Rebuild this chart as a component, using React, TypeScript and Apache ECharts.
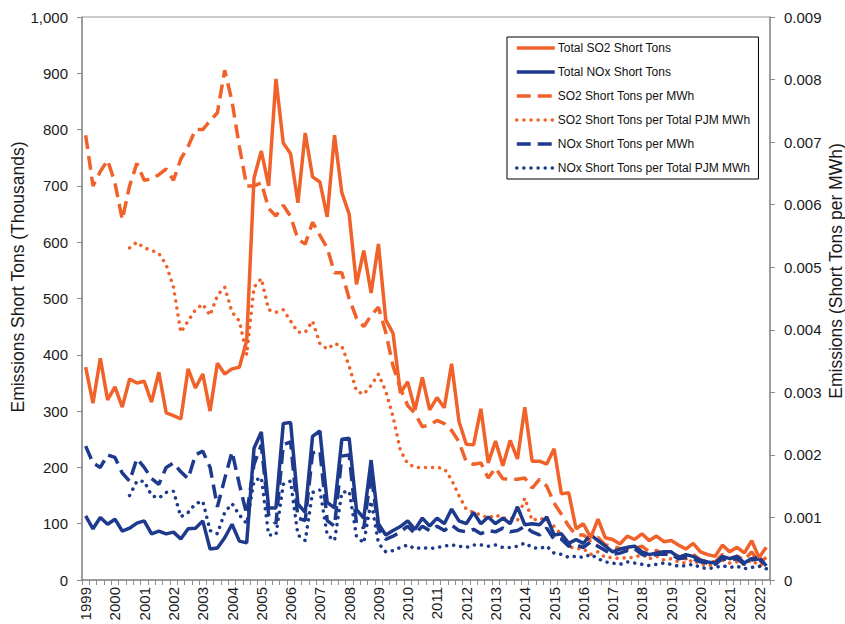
import React, { useEffect, useRef } from "react";
import * as echarts from "echarts";

const years = [1999, 2000, 2001, 2002, 2003, 2004, 2005, 2006, 2007, 2008, 2009, 2010, 2011, 2012, 2013, 2014, 2015, 2016, 2017, 2018, 2019, 2020, 2021, 2022];
const quarters = ["Q1", "Q2", "Q3", "Q4"];
// 1999 Q1 .. 2022 Q2
const categories = years.flatMap((y) => quarters.map((q) => `${y} ${q}`)).slice(0, 94);

const seriesNames = [
  "Total SO2 Short Tons",
  "Total NOx Short Tons",
  "SO2 Short Tons per MWh",
  "SO2 Short Tons per Total PJM MWh",
  "NOx Short Tons per MWh",
  "NOx Short Tons per Total PJM MWh",
];

const leftAxisTitle = "Emissions Short Tons (Thousands)";
const rightAxisTitle = "Emissions (Short Tons per MWh)";

// Thousands of short tons
const totalSO2 = [
  378, 314, 394, 320, 343, 307, 357, 350, 353, 316,
  369, 297, 292, 286, 375, 341, 366, 300, 385, 366,
  375, 378, 425, 714, 762, 700, 890, 776, 757, 670,
  794, 716, 707, 645, 790, 688, 650, 525, 585, 510,
  597, 462, 438, 332, 352, 302, 360, 302, 324, 306,
  384, 282, 241, 240, 304, 208, 247, 203, 248, 215,
  307, 211, 211, 206, 233, 153, 155, 91, 100, 75,
  108, 75, 72, 64, 78, 72, 82, 70, 78, 68,
  70, 62, 55, 65, 50, 45, 42, 62, 50, 58,
  48, 70, 40, 58,
];

const totalNOx = [
  114, 91, 111, 99, 108, 87, 92, 101, 105, 82,
  87, 82, 85, 73, 91, 92, 105, 55, 57, 75,
  99, 69, 66, 234, 263, 128, 128, 278, 280, 135,
  120, 255, 265, 138, 128, 250, 252, 125, 110, 213,
  100, 80, 88, 95, 105, 90, 110, 96, 110, 100,
  126, 105, 100, 120, 100, 112, 100, 110, 100, 130,
  98, 100, 98, 112, 80, 82, 65, 72, 65, 80,
  70, 60, 50, 55, 58, 60, 50, 45, 48, 50,
  50, 40, 45, 42, 35, 32, 30, 42, 38, 42,
  30, 38, 40, 25,
];

// Short tons per MWh
const so2PerMWh = [
  0.00711, 0.0063, 0.00653, 0.00671, 0.00635, 0.00576, 0.0063, 0.00666, 0.00639, 0.00641,
  0.00648, 0.00657, 0.00639, 0.00673, 0.00693, 0.0072, 0.0072, 0.00734, 0.00747, 0.00815,
  0.00765, 0.00693, 0.0063, 0.0063, 0.00635, 0.00594, 0.00582, 0.00599, 0.00581, 0.00545,
  0.00537, 0.00572, 0.00551, 0.00531, 0.00491, 0.00491, 0.0045, 0.00419, 0.00405, 0.00423,
  0.00436, 0.00396, 0.00342, 0.00306, 0.00279, 0.00266, 0.00245, 0.00248, 0.00255, 0.0025,
  0.00239, 0.00221, 0.00189, 0.00185, 0.00187, 0.00163, 0.00179, 0.00162, 0.00161, 0.00161,
  0.00163, 0.00147, 0.00161, 0.0015, 0.00123, 0.00105, 0.00086, 0.00072, 0.00072, 0.00063,
  0.00068, 0.00056, 0.00054, 0.0005, 0.0005, 0.0005, 0.00054, 0.00045, 0.00047, 0.00041,
  0.00043, 0.00038, 0.00034, 0.00041, 0.00032, 0.00029, 0.00029, 0.00041, 0.00034, 0.00038,
  0.00032, 0.00045, 0.00027, 0.00036,
];

const so2PerTotalMWh = [
  null, null, null, null, null, null, 0.00531, 0.0054, 0.00531, 0.00527,
  0.00522, 0.00504, 0.00468, 0.00396, 0.00414, 0.00432, 0.00441, 0.00423, 0.00455, 0.00468,
  0.00428, 0.00414, 0.0036, 0.00468, 0.00482, 0.00432, 0.00428, 0.00432, 0.00414, 0.00396,
  0.00396, 0.00414, 0.00378, 0.00369, 0.00378, 0.00374, 0.00342, 0.00302, 0.00297, 0.00311,
  0.00329, 0.00302, 0.00261, 0.00207, 0.00186, 0.0018, 0.0018, 0.0018, 0.0018, 0.00178,
  0.0016, 0.00135, 0.00113, 0.00108, 0.00104, 0.00099, 0.00104, 0.00099, 0.00099, 0.00095,
  0.00131, 0.00095, 0.00099, 0.00095, 0.00086, 0.00072, 0.00054, 0.0005, 0.0005, 0.00041,
  0.00045, 0.00036, 0.00036, 0.00034, 0.00036, 0.00036, 0.00041, 0.00034, 0.00038, 0.00032,
  0.00034, 0.00029, 0.00027, 0.00032, 0.00025, 0.00023, 0.00025, 0.00032, 0.00027, 0.00029,
  0.00025, 0.00032, 0.00023, 0.00027,
];

const noxPerMWh = [
  0.00214, 0.00187, 0.0018, 0.002, 0.00196, 0.00171, 0.00158, 0.00194, 0.0018, 0.00162,
  0.00153, 0.0018, 0.00187, 0.00173, 0.00162, 0.002, 0.00206, 0.0018, 0.00117, 0.00162,
  0.00205, 0.00153, 0.00105, 0.00185, 0.00216, 0.00104, 0.0009, 0.00216, 0.00221, 0.00099,
  0.00095, 0.00203, 0.00207, 0.00095, 0.00086, 0.00198, 0.002, 0.0009, 0.00083, 0.00171,
  0.00081, 0.00065, 0.0007, 0.00077, 0.00086, 0.00074, 0.00086, 0.00079, 0.00086, 0.00079,
  0.00088, 0.00079, 0.00077, 0.00081, 0.00074, 0.00079, 0.00077, 0.00083, 0.00077, 0.00079,
  0.00086, 0.00077, 0.00072, 0.00083, 0.00065, 0.00065, 0.00054, 0.00056, 0.00052, 0.00061,
  0.00054, 0.00047, 0.00041, 0.00043, 0.00047, 0.0005, 0.00041, 0.00038, 0.00041, 0.00041,
  0.00041, 0.00034, 0.00036, 0.00034, 0.00029, 0.00027, 0.00025, 0.00034, 0.00032, 0.00034,
  0.00025, 0.00032, 0.00034, 0.00023,
];

const noxPerTotalMWh = [
  null, null, null, null, null, null, 0.00135, 0.00158, 0.00158, 0.00135,
  0.00131, 0.0014, 0.00142, 0.00101, 0.00108, 0.00122, 0.00126, 0.00079, 0.00074, 0.00108,
  0.00122, 0.00104, 0.0009, 0.00158, 0.00164, 0.00072, 0.00072, 0.00153, 0.00158, 0.00072,
  0.00063, 0.0014, 0.00144, 0.00072, 0.00063, 0.0014, 0.00142, 0.0007, 0.00059, 0.00126,
  0.00059, 0.00045, 0.00047, 0.00052, 0.00056, 0.0005, 0.00052, 0.0005, 0.00052, 0.00054,
  0.00056, 0.00054, 0.00052, 0.00056, 0.00056, 0.00054, 0.00056, 0.00052, 0.00052, 0.00054,
  0.00059, 0.00052, 0.0005, 0.00054, 0.00043, 0.00041, 0.00036, 0.00038, 0.00036, 0.00041,
  0.00034, 0.00029, 0.00027, 0.00025, 0.00029, 0.00027, 0.00025, 0.00023, 0.00025, 0.00027,
  0.00025, 0.00022, 0.00023, 0.00025, 0.0002, 0.00018, 0.0002, 0.00023, 0.0002, 0.00022,
  0.00018, 0.0002, 0.00022, 0.00018,
];

const ORANGE = "#F0622A";
const BLUE = "#1D3A8C";
const AXIS = "#8c8c8c";
const TEXT = "#1a1a1a";
const FONT = "'Liberation Sans', Arial, sans-serif";

export default function App() {
  const ref = useRef<HTMLDivElement>(null);

  useEffect(() => {
    document.body.style.margin = "0";
    if (!ref.current) return;
    const chart = echarts.init(ref.current, undefined, { renderer: "svg" });

    const solid = (color: string) => ({ color, width: 3.5, type: "solid" as const });
    const dashed = (color: string) => ({ color, width: 3.5, type: [14, 7], cap: "butt" as const });
    const dotted = (color: string) => ({ color, width: 3.5, type: [0.1, 7], cap: "round" as const });

    const mk = (name: string, data: (number | null)[], yAxisIndex: number, lineStyle: any, color: string, z: number) => ({
      name,
      type: "line",
      data,
      yAxisIndex,
      symbol: "none",
      showSymbol: false,
      connectNulls: false,
      lineStyle,
      itemStyle: { color },
      z,
    });

    chart.setOption({
      animation: false,
      backgroundColor: "#ffffff",
      grid: { left: 82, right: 75, top: 17, bottom: 44, show: true, borderColor: "#9a9a9a", borderWidth: 1 },
      legend: {
        data: seriesNames,
        orient: "vertical",
        left: 507,
        top: 37,
        itemWidth: 38,
        itemHeight: 12,
        itemGap: 12,
        padding: [5, 8, 5, 8],
        borderColor: "#000",
        borderWidth: 1,
        backgroundColor: "#fff",
        itemStyle: { opacity: 0 },
        lineStyle: { width: 3.5 },
        textStyle: { fontSize: 12, color: "#111", fontFamily: FONT, padding: [0, 0, 0, -2] },
      },
      graphic: [
        {
          type: "text",
          x: 18,
          y: 277,
          rotation: Math.PI / 2,
          style: { text: leftAxisTitle, fill: TEXT, font: `17.5px ${FONT}`, textAlign: "center", textVerticalAlign: "middle" },
        },
        {
          type: "text",
          x: 836,
          y: 271,
          rotation: Math.PI / 2,
          style: { text: rightAxisTitle, fill: TEXT, font: `17.5px ${FONT}`, textAlign: "center", textVerticalAlign: "middle" },
        },
      ],
      xAxis: {
        type: "category",
        data: categories,
        boundaryGap: true,
        axisLine: { show: true, lineStyle: { color: AXIS, width: 1.5 } },
        axisTick: { show: true, interval: 0, length: 5, lineStyle: { color: AXIS } },
        axisLabel: {
          interval: 3,
          rotate: 90,
          margin: 7,
          fontSize: 15,
          color: TEXT,
          fontFamily: FONT,
          formatter: (v: string) => v.slice(0, 4),
        },
        splitLine: { show: false },
      },
      yAxis: [
        {
          type: "value",
          min: 0,
          max: 1000,
          interval: 100,
          axisLine: { show: true, lineStyle: { color: AXIS, width: 1.5 } },
          axisTick: { show: true, length: 5, lineStyle: { color: AXIS } },
          axisLabel: {
            fontSize: 15,
            color: TEXT,
            fontFamily: FONT,
            margin: 14,
            formatter: (v: number) => v.toLocaleString("en-US"),
          },
          splitLine: { show: false },
        },
        {
          type: "value",
          position: "right",
          min: 0,
          max: 0.009,
          interval: 0.001,
          axisLine: { show: true, lineStyle: { color: AXIS, width: 1.5 } },
          axisTick: { show: true, length: 5, lineStyle: { color: AXIS } },
          axisLabel: {
            fontSize: 15,
            color: TEXT,
            fontFamily: FONT,
            margin: 14,
            formatter: (v: number) => (v === 0 ? "0" : v.toFixed(3)),
          },
          splitLine: { show: false },
        },
      ],
      series: [
        mk(seriesNames[0], totalSO2, 0, solid(ORANGE), ORANGE, 6),
        mk(seriesNames[1], totalNOx, 0, solid(BLUE), BLUE, 5),
        mk(seriesNames[2], so2PerMWh, 1, dashed(ORANGE), ORANGE, 4),
        mk(seriesNames[3], so2PerTotalMWh, 1, dotted(ORANGE), ORANGE, 3),
        mk(seriesNames[4], noxPerMWh, 1, dashed(BLUE), BLUE, 4),
        mk(seriesNames[5], noxPerTotalMWh, 1, dotted(BLUE), BLUE, 3),
      ],
    });

    return () => chart.dispose();
  }, []);

  return <div ref={ref} style={{ width: 845, height: 624 }} />;
}
